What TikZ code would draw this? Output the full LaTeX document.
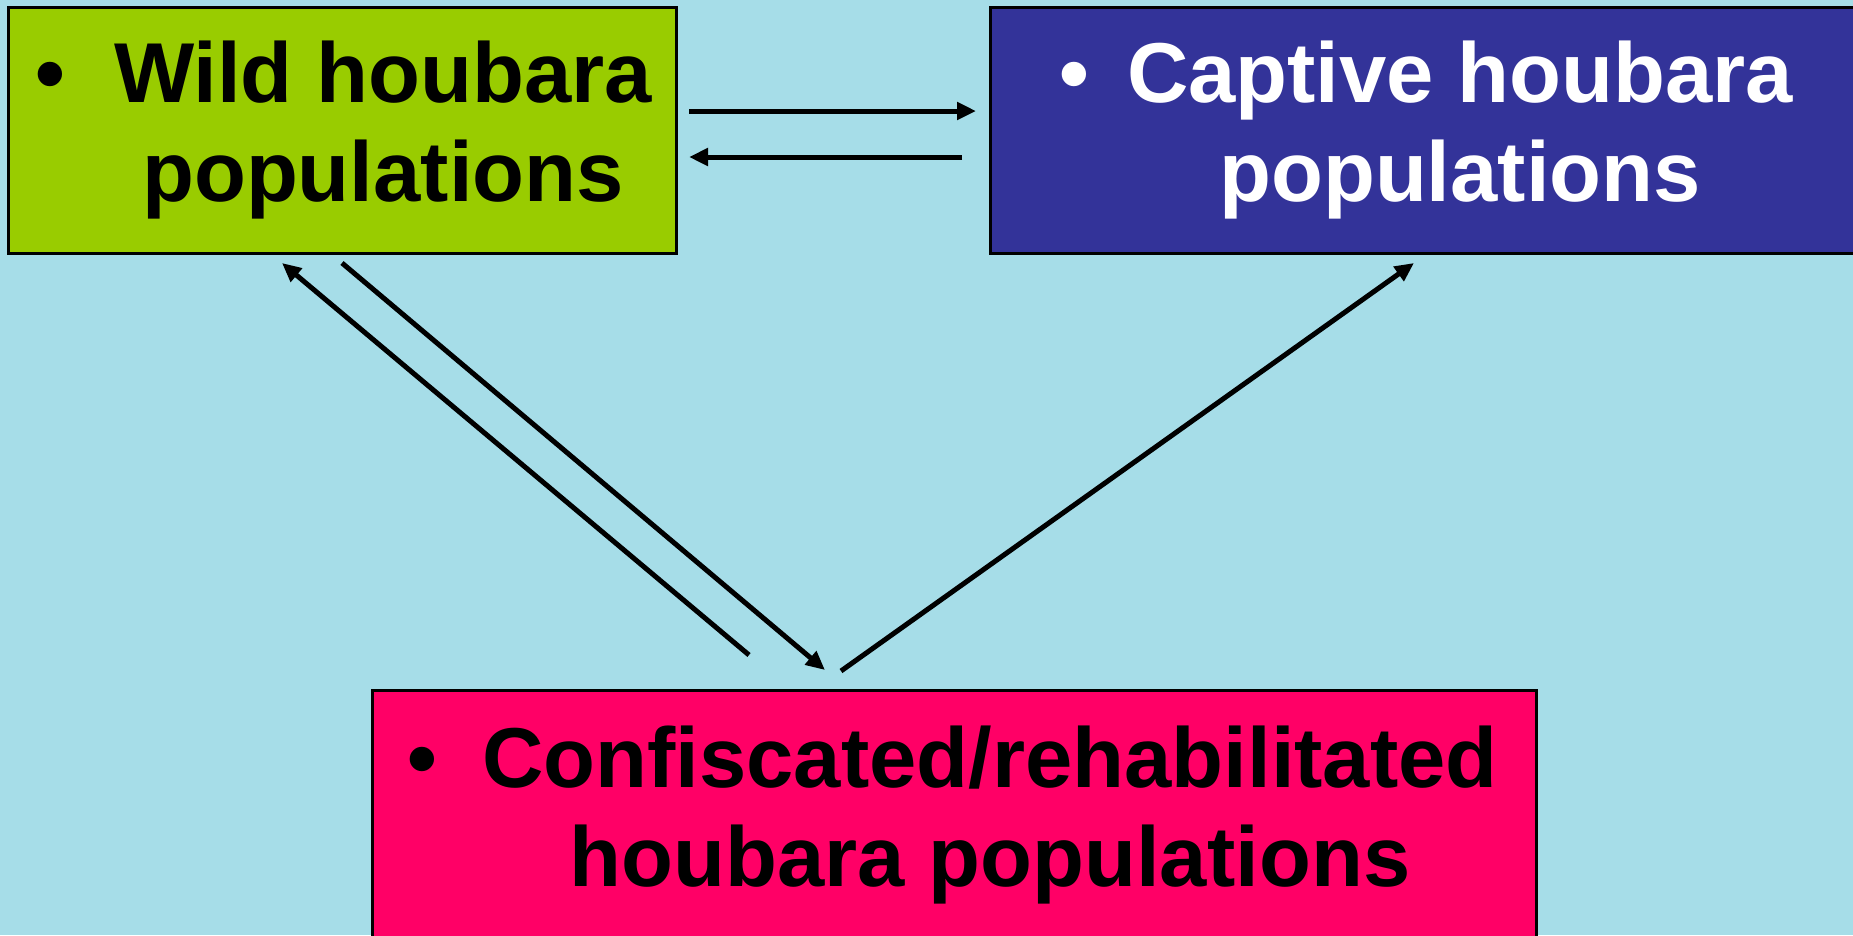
\documentclass[tikz,border=0pt]{standalone}
\usepackage{fontspec}
\setmainfont{Liberation Sans}
\usetikzlibrary{arrows.meta}
\definecolor{bgcyan}{HTML}{A6DDE8}
\definecolor{wildgreen}{HTML}{99CC00}
\definecolor{captiveblue}{HTML}{333399}
\definecolor{confpink}{HTML}{FF0066}
\tikzset{
  popbox/.style={draw=black, line width=3pt, rectangle, inner sep=0pt, align=center,
    font=\fontsize{85}{99}\selectfont\bfseries},
  flow/.style={draw=black, line width=5pt, -{Triangle[length=19pt,width=17pt]}}
}
\begin{document}
\begin{tikzpicture}[x=1pt,y=-1pt]
\useasboundingbox (0,0) rectangle (1853,935);
\fill[bgcyan] (0,0) rectangle (1853,935);
\node[popbox, fill=wildgreen, text=black, minimum width=668pt, minimum height=246pt]
  (wild) at (342,130)
  {\hspace*{82pt}\llap{\textbullet\hspace{49pt}}Wild houbara\\\hspace*{82pt}populations};
\node[popbox, fill=captiveblue, text=white, minimum width=870pt, minimum height=246pt]
  (captive) at (1425,130)
  {\hspace*{70pt}\llap{\textbullet\hspace{38pt}}Captive houbara\\\hspace*{70pt}populations};
\node[popbox, fill=confpink, text=black, minimum width=1164pt, minimum height=250pt]
  (conf) at (954,815)
  {\hspace*{72pt}\llap{\textbullet\hspace{45pt}}Confiscated/rehabilitated\\\hspace*{72pt}houbara populations};
% connector end points
\coordinate (wc1) at (689,111);
\coordinate (wc2) at (976,111);
\coordinate (cw1) at (962,157);
\coordinate (cw2) at (689,157);
\coordinate (fw1) at (749,655);
\coordinate (fw2) at (282,263);
\coordinate (wf1) at (342,263);
\coordinate (wf2) at (825,670);
\coordinate (fc1) at (841,671);
\coordinate (fc2) at (1414,263);
\draw[flow] (wc1) -- (wc2);
\draw[flow] (cw1) -- (cw2);
\draw[flow] (fw1) -- (fw2);
\draw[flow] (wf1) -- (wf2);
\draw[flow] (fc1) -- (fc2);
\end{tikzpicture}
\end{document}
